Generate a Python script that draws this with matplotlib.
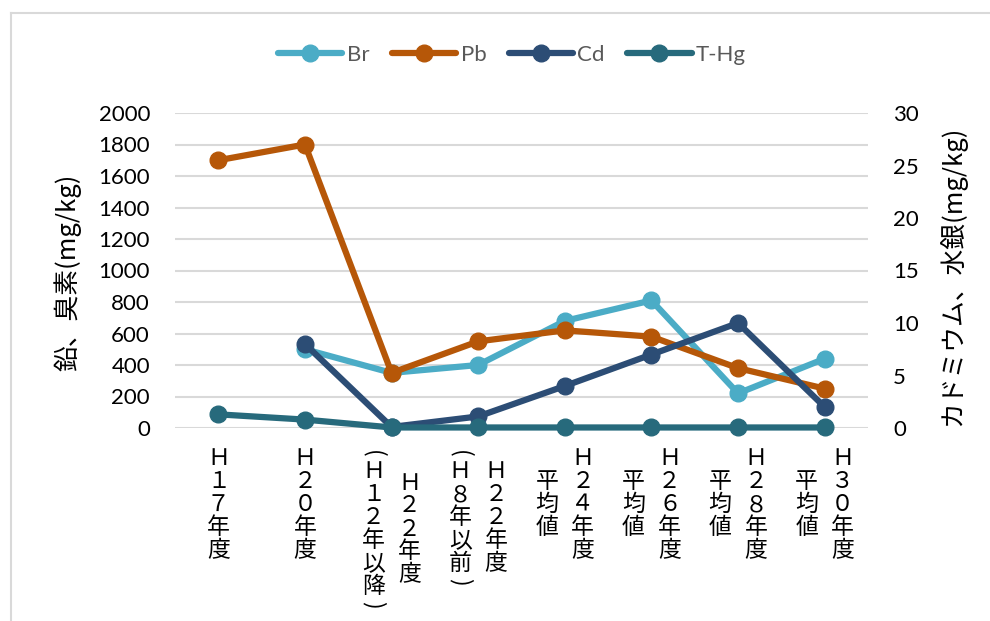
import matplotlib
matplotlib.use("Agg")
import matplotlib.pyplot as plt
from matplotlib.lines import Line2D

plt.rcParams['font.family'] = ['Lato', 'Noto Sans CJK JP', 'DejaVu Sans']

# 調査年度（縦書きの列ごと：右の列から順に）
categories = [
    ["Ｈ１７年度"],
    ["Ｈ２０年度"],
    ["Ｈ２２年度", "(Ｈ１２年以降)"],
    ["Ｈ２２年度", "(Ｈ８年以前)"],
    ["Ｈ２４年度", "平均値"],
    ["Ｈ２６年度", "平均値"],
    ["Ｈ２８年度", "平均値"],
    ["Ｈ３０年度", "平均値"],
]

# 鉛・臭素 (mg/kg) 左軸
br = [None, 500, 350, 400, 680, 810, 220, 440]
pb = [1700, 1800, 350, 550, 620, 580, 380, 250]
# カドミウム・水銀 (mg/kg) 右軸
cd = [None, 8.0, 0.1, 1.1, 4.0, 7.0, 10.0, 2.0]
thg = [1.3, 0.8, 0.05, 0.05, 0.05, 0.05, 0.05, 0.05]

left_ticks = [0, 200, 400, 600, 800, 1000, 1200, 1400, 1600, 1800, 2000]
right_ticks = [0, 5, 10, 15, 20, 25, 30]

c_br = "#4BACC6"
c_pb = "#B65708"
c_cd = "#2C4D75"
c_hg = "#276A7C"

fig = plt.figure(figsize=(9.9, 6.21), dpi=100)
ax = fig.add_axes([175 / 990, 1 - 428 / 621, 693 / 990, 315 / 621])
ax2 = ax.twinx()

x = list(range(len(categories)))
lw = 4.5
ms = 12


def plot_series(a, vals, color):
    xs = [i for i, v in zip(x, vals) if v is not None]
    ys = [v for v in vals if v is not None]
    a.plot(xs, ys, color=color, lw=lw, marker="o", ms=ms,
           solid_capstyle="round", solid_joinstyle="round", clip_on=False)


plot_series(ax, br, c_br)
plot_series(ax, pb, c_pb)
plot_series(ax2, cd, c_cd)
plot_series(ax2, thg, c_hg)

ax.set_xlim(-0.5, len(categories) - 0.5)
ax.set_ylim(0, 2000)
ax2.set_ylim(0, 30)
ax.set_yticks(left_ticks)
ax2.set_yticks(right_ticks)
ax.set_xticks([])
ax.yaxis.grid(True, color="#D9D9D9", lw=1.5)
for a in (ax, ax2):
    for s in a.spines.values():
        s.set_visible(False)
    a.tick_params(axis="y", length=0, labelsize=16, pad=18, labelcolor="#000000")

# 縦書きの項目ラベル（括弧は横倒しにして送り幅を短くする）
pitch = 23
short = 13
col_gap = 36


def advance(ch):
    return short if ch in "()" else pitch


for i, cols in enumerate(categories):
    heights = [sum(advance(ch) for ch in col) for col in cols]
    center = 19 + max(heights) / 2
    ncol = len(cols)
    for j, col in enumerate(cols):
        dx = ((ncol - 1) / 2 - j) * col_gap
        pos = center - heights[j] / 2
        for ch in col:
            a_ = advance(ch)
            ax.annotate(ch, xy=(i, 0), xycoords=("data", "axes fraction"),
                        xytext=(dx, -(pos + a_ / 2)), textcoords="offset pixels",
                        ha="center", va="center", fontsize=16.5,
                        rotation=-90 if ch in "()" else 0,
                        family=["Noto Sans CJK JP"], annotation_clip=False)
            pos += a_

fig.text(68 / 990, 1 - 272 / 621, "鉛、臭素(mg/kg)", rotation=90,
         ha="center", va="center", fontsize=18.5, family=["Noto Sans CJK JP"])
fig.text(952 / 990, 1 - 276 / 621, "カドミウム、水銀(mg/kg)", rotation=90,
         ha="center", va="center", fontsize=18.5, family=["Noto Sans CJK JP"])

handles = [Line2D([], [], color=c, lw=lw, marker="o", ms=ms, solid_capstyle="round")
           for c in (c_br, c_pb, c_cd, c_hg)]
leg = fig.legend(handles, ["Br", "Pb", "Cd", "T-Hg"], ncol=4, loc="center",
                 bbox_to_anchor=(512 / 990, 1 - 55 / 621), frameon=False,
                 fontsize=16, handlelength=2.9, handletextpad=0.2, columnspacing=1.0)
for t in leg.get_texts():
    t.set_color("#595959")

# グラフエリアの枠線
fig.add_artist(Line2D([10.5 / 990, 10.5 / 990], [0, 1 - 13 / 621],
                      color="#D9D9D9", lw=1.5))
fig.add_artist(Line2D([10.5 / 990, 1], [1 - 13 / 621, 1 - 13 / 621],
                      color="#D9D9D9", lw=1.5))

fig.savefig("out.png", dpi=100)
